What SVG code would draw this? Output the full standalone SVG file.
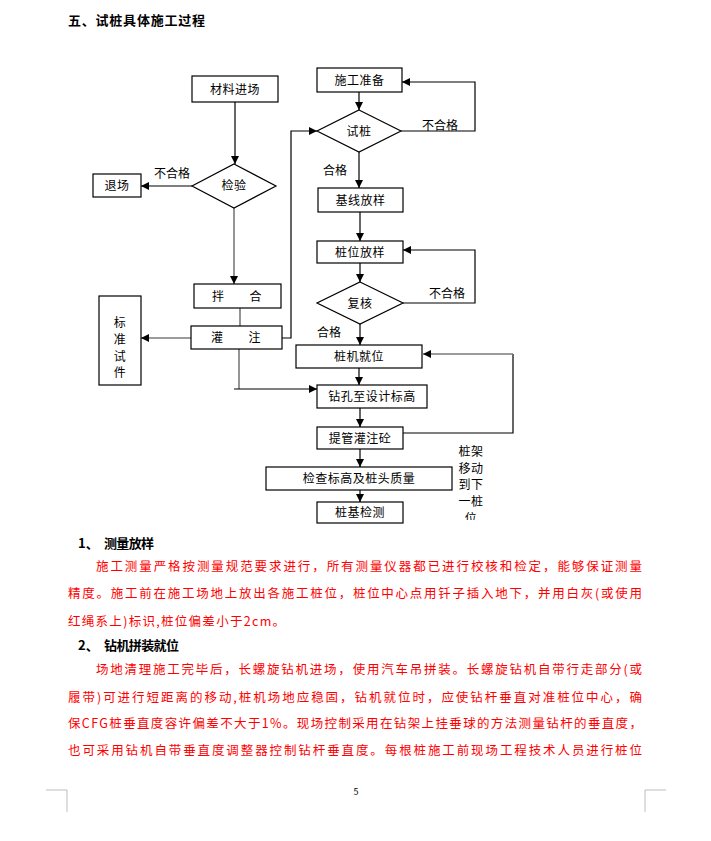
<svg xmlns="http://www.w3.org/2000/svg" width="711" height="841" viewBox="0 0 711 841">
<style>
text{font-family:"Noto Sans CJK SC","Liberation Sans",sans-serif;fill:#000}
.n{fill:#fff;stroke:#000;stroke-width:1.2}
.t{font-size:12px;text-anchor:middle;letter-spacing:0.5px}
.l{fill:none;stroke:#000;stroke-width:1.2}
.g{fill:none;stroke:#7a7a7a;stroke-width:1.6}
.lab{font-size:12px;text-anchor:middle}
.h{font-size:13px;font-weight:bold}
.p{font-size:12.5px;fill:#ff0000}
.mk{fill:none;stroke:#bdbdbd;stroke-width:1}
</style>
<defs>
<marker id="a" markerUnits="userSpaceOnUse" markerWidth="9" markerHeight="8" refX="8" refY="4" orient="auto"><path d="M0,0 L8,4 L0,8 z" fill="#000"/></marker>
<clipPath id="cv"><rect x="440" y="440" width="60" height="80"/></clipPath>
</defs>
<rect width="711" height="841" fill="#fff"/>
<text x="68" y="25" class="h" font-size="13.5" textLength="137">五、试桩具体施工过程</text>

<g id="connectors">
<path class="l" d="M235,102 V164" marker-end="url(#a)"/>
<path class="l" d="M192,186 H141" marker-end="url(#a)"/>
<text class="lab" x="172" y="178">不合格</text>
<path class="g" d="M234,208 V284" marker-end="url(#a)"/>
<path class="g" d="M240,308 V326"/>
<path class="g" d="M191,338 H141" marker-end="url(#a)"/>
<path class="g" d="M239,349 V389"/>
<path class="l" d="M234,389 H317" marker-end="url(#a)"/>
<path class="l" d="M282,338 H291 V131 H317" marker-end="url(#a)"/>
<path class="l" d="M359,92 V110" marker-end="url(#a)"/>
<path class="l" d="M401,131 H475 V82 H402" marker-end="url(#a)"/>
<text class="lab" x="440" y="130">不合格</text>
<path class="l" d="M359,152 V188" marker-end="url(#a)"/>
<text class="lab" x="335" y="175">合格</text>
<path class="l" d="M360,212 V241" marker-end="url(#a)"/>
<path class="l" d="M360,263 V282" marker-end="url(#a)"/>
<path class="l" d="M403,303 H475 V250 H403" marker-end="url(#a)"/>
<text class="lab" x="447" y="298">不合格</text>
<path class="l" d="M360,324 V345" marker-end="url(#a)"/>
<text class="lab" x="329" y="337">合格</text>
<path class="l" d="M359,368 V385" marker-end="url(#a)"/>
<path class="l" d="M360,408 V427" marker-end="url(#a)"/>
<path class="l" d="M360,449 V467" marker-end="url(#a)"/>
<path class="l" d="M360,490 V502" marker-end="url(#a)"/>
<path class="l" d="M403,433 H513 V354"/>
<path class="g" d="M513,354 H423" marker-end="url(#a)"/>
</g>

<g id="n-cljc"><rect class="n" x="192" y="76" width="86" height="26"/><text class="t" x="235" y="93.5">材料进场</text></g>
<g id="n-jy"><polygon class="n" points="234,164 276,186 234,208 192,186"/><text class="t" x="234" y="190">检验</text></g>
<g id="n-tc"><rect class="n" x="93" y="174" width="48" height="23"/><text class="t" x="117" y="190">退场</text></g>
<g id="n-bh"><rect class="n" x="194" y="284" width="87" height="24"/><text class="t" x="237" y="300.5">拌　　合</text></g>
<g id="n-gz"><rect class="n" x="191" y="326" width="91" height="23"/><text class="t" x="236" y="342">灌　　注</text></g>
<g id="n-bzsj"><rect class="n" x="99" y="296" width="42" height="89"/>
<text class="t" x="120" y="327">标</text><text class="t" x="120" y="344">准</text><text class="t" x="120" y="361">试</text><text class="t" x="120" y="377">件</text></g>
<g id="n-sgzb"><rect class="n" x="317" y="68" width="85" height="24"/><text class="t" x="359.5" y="84.5">施工准备</text></g>
<g id="n-sz"><polygon class="n" points="359,110 401,131 359,152 317,131"/><text class="t" x="359" y="135.5">试桩</text></g>
<g id="n-jxfy"><rect class="n" x="318" y="188" width="85" height="24"/><text class="t" x="360.5" y="204.5">基线放样</text></g>
<g id="n-zwfy"><rect class="n" x="317" y="241" width="86" height="22"/><text class="t" x="360" y="256.5">桩位放样</text></g>
<g id="n-fh"><polygon class="n" points="360,282 403,303 360,324 317,303"/><text class="t" x="360" y="307.5">复核</text></g>
<g id="n-zjjw"><rect class="n" x="296" y="345" width="126" height="23"/><text class="t" x="359" y="361">桩机就位</text></g>
<g id="n-zk"><rect class="n" x="317" y="385" width="110" height="23"/><text class="t" x="372" y="401">钻孔至设计标高</text></g>
<g id="n-tg"><rect class="n" x="317" y="427" width="86" height="22"/><text class="t" x="360" y="442.5">提管灌注砼</text></g>
<g id="n-jc"><rect class="n" x="266" y="467" width="186" height="23"/><text class="t" x="359" y="483">检查标高及桩头质量</text></g>
<g id="n-zjjc"><rect class="n" x="317" y="502" width="86" height="21"/><text class="t" x="360" y="517">桩基检测</text></g>
<g id="n-note" clip-path="url(#cv)">
<text class="t" x="471" y="456">桩架</text><text class="t" x="471" y="472.5">移动</text><text class="t" x="471" y="489">到下</text><text class="t" x="471" y="506">一桩</text><text class="t" x="471" y="522.5">位</text>
</g>

<text x="78" y="548" class="h">1、</text><text x="104" y="548" class="h" textLength="50">测量放样</text>
<text x="96" y="571" class="p" textLength="546" lengthAdjust="spacing">施工测量严格按测量规范要求进行，所有测量仪器都已进行校核和检定，能够保证测量</text>
<text x="68" y="598" class="p" textLength="574" lengthAdjust="spacing">精度。施工前在施工场地上放出各施工桩位，桩位中心点用钎子插入地下，并用白灰(或使用</text>
<text x="68" y="626" class="p" textLength="217" lengthAdjust="spacing">红绳系上)标识,桩位偏差小于2cm。</text>
<text x="78" y="650" class="h">2、</text><text x="104" y="650" class="h" textLength="75">钻机拼装就位</text>
<text x="96" y="674" class="p" textLength="546" lengthAdjust="spacing">场地清理施工完毕后，长螺旋钻机进场，使用汽车吊拼装。长螺旋钻机自带行走部分(或</text>
<text x="68" y="702" class="p" textLength="574" lengthAdjust="spacing">履带)可进行短距离的移动,桩机场地应稳固，钻机就位时，应使钻杆垂直对准桩位中心，确</text>
<text x="68" y="728" class="p" textLength="574" lengthAdjust="spacing">保CFG桩垂直度容许偏差不大于1%。现场控制采用在钻架上挂垂球的方法测量钻杆的垂直度，</text>
<text x="68" y="755" class="p" textLength="574" lengthAdjust="spacing">也可采用钻机自带垂直度调整器控制钻杆垂直度。每根桩施工前现场工程技术人员进行桩位</text>

<path class="mk" d="M46,790 H67 V812"/>
<path class="mk" d="M666,790 H645 V812"/>
<text x="356" y="795" font-size="9" text-anchor="middle" fill="#555" font-family="Liberation Serif, serif">5</text>
</svg>
